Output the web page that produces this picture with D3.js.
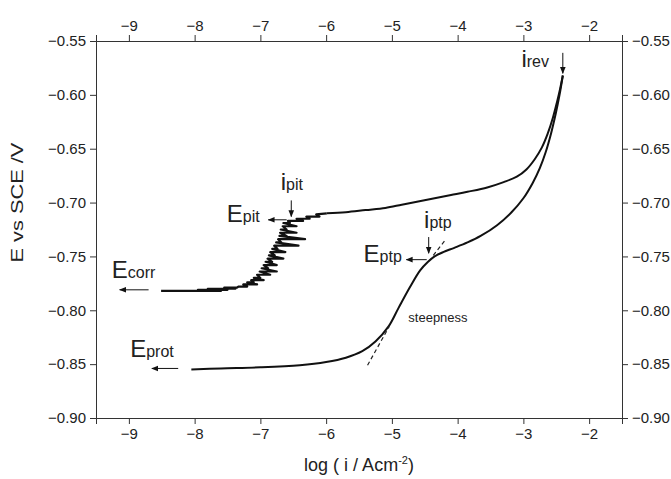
<!DOCTYPE html>
<html>
<head>
<meta charset="utf-8">
<script src="https://cdn.jsdelivr.net/npm/d3@7"></script>
<style>
    body { margin: 0; background: #fff; }
    svg { display: block; font-family: "Liberation Sans", Arial, sans-serif; }
</style>
</head>
<body>
<svg id="polar-chart"></svg>
<script>
/*--------------------------------------------------------------------------------
----- CYCLIC POLARISATION CURVE (E vs log i, forward and reverse scan)
--------------------------------------------------------------------------------*/

// Forward scan, pitting region (noisy, current spikes at nearly constant E)
const pit_log_i = [-8.51, -7.60, -7.95, -7.50, -7.80, -7.38, -7.55, -7.36,
    -7.33, -7.20, -7.26, -7.05, -7.20, -7.10, -7.14, -6.95, -7.10, -7.00,
    -7.05, -6.85, -7.01, -6.75, -6.98, -6.88, -6.95, -6.75, -6.92, -6.82,
    -6.89, -6.65, -6.87, -6.78, -6.85, -6.62, -6.82, -6.74, -6.79, -6.42,
    -6.76, -6.68, -6.73, -6.32, -6.71, -6.60, -6.70, -6.45, -6.69, -6.60,
    -6.66, -6.45, -6.65, -6.55, -6.58, -6.35, -6.45, -6.25, -6.30, -6.10,
    -6.15, -5.99];
const pit_e = [-0.782, -0.782, -0.781, -0.781, -0.780, -0.780, -0.779, -0.779,
    -0.778, -0.778, -0.776, -0.776, -0.774, -0.774, -0.772, -0.772, -0.770, -0.770,
    -0.767, -0.767, -0.764, -0.764, -0.761, -0.761, -0.758, -0.758, -0.755, -0.755,
    -0.752, -0.752, -0.749, -0.749, -0.746, -0.746, -0.743, -0.743, -0.740, -0.740,
    -0.737, -0.737, -0.734, -0.734, -0.731, -0.731, -0.728, -0.728, -0.725, -0.725,
    -0.722, -0.722, -0.719, -0.719, -0.717, -0.717, -0.715, -0.715, -0.713, -0.713,
    -0.711, -0.710];

// Forward scan, passive region up to the reversal point
const fwd_log_i = [-5.99, -5.70, -5.40, -5.10, -4.85, -4.60, -4.35, -4.10, -3.85, -3.55,
    -3.30, -3.10, -2.95, -2.83, -2.72, -2.63, -2.55, -2.49, -2.44, -2.40];
const fwd_e = [-0.710, -0.709, -0.707, -0.705, -0.702, -0.699, -0.696, -0.693, -0.690, -0.686,
    -0.681, -0.676, -0.669, -0.660, -0.649, -0.636, -0.621, -0.607, -0.594, -0.582];

// Reverse scan, starting from the reversal point
const rev_log_i = [-2.40, -2.45, -2.51, -2.58, -2.66, -2.75, -2.86, -3.00, -3.18, -3.40,
    -3.65, -3.85, -4.05, -4.22, -4.35, -4.45, -4.57, -4.72, -4.90, -5.05,
    -5.25, -5.45, -5.70, -6.00, -6.40, -7.00, -7.60, -8.05];
const rev_e = [-0.582, -0.600, -0.618, -0.636, -0.653, -0.668, -0.682, -0.696, -0.709, -0.721,
    -0.731, -0.737, -0.742, -0.746, -0.750, -0.755, -0.763, -0.778, -0.798, -0.815,
    -0.829, -0.838, -0.844, -0.848, -0.851, -0.853, -0.854, -0.855];

// Dashed tangent ("steepness") pieces, as [log i, E] pairs
const tangent_low = [[-5.37, -0.851], [-5.04, -0.815]];
const tangent_high = [[-4.37, -0.749], [-4.19, -0.735]];

// Axis ticks
const x_ticks = [-9, -8, -7, -6, -5, -4, -3, -2];
const x_minor_ticks = [-9.5, -8.5, -7.5, -6.5, -5.5, -4.5, -3.5, -2.5, -1.5];
const y_ticks = [-0.55, -0.60, -0.65, -0.70, -0.75, -0.80, -0.85, -0.90];
const y_minor_ticks = d3.range(-0.55, -0.9005, -0.01);

// Annotations: [big letter, small suffix, log i, E]
const labels = [
    ["E", "corr", -9.26, -0.770],
    ["E", "pit", -7.51, -0.718],
    ["i", "pit", -6.69, -0.688],
    ["i", "ptp", -4.51, -0.724],
    ["E", "ptp", -5.43, -0.755],
    ["E", "prot", -8.98, -0.843],
    ["i", "rev", -3.03, -0.574]
];
// Arrows: [from log i, from E, to log i, to E]
const arrows = [
    [-8.70, -0.781, -9.14, -0.781],
    [-6.60, -0.716, -6.88, -0.716],
    [-6.53, -0.698, -6.53, -0.713],
    [-4.44, -0.732, -4.44, -0.747],
    [-4.47, -0.753, -4.78, -0.753],
    [-8.25, -0.854, -8.65, -0.854],
    [-2.40, -0.561, -2.40, -0.580]
];

// Dimensions of the chart
const width = 671, height = 479;
const margins = { top: 41, right: 49, bottom: 61, left: 96 };
const chart_width = width - margins.left - margins.right;
const chart_height = height - margins.top - margins.bottom;

const x_scale = d3.scaleLinear().domain([-9.5, -1.5]).range([0, chart_width]);
const y_scale = d3.scaleLinear().domain([-0.90, -0.55]).range([chart_height, 0]);

const svg = d3.select("#polar-chart")
    .attr("width", width)
    .attr("height", height);

const chart = svg.append("g")
    .attr("transform", `translate(${margins.left},${margins.top})`);

// Helper to draw one axis with its major and minor ticks
function draw_axis(axis_fn, scale, ticks, minor, transform, fmt) {
    const g = chart.append("g").attr("transform", transform);
    g.call(axis_fn(scale).tickValues(minor).tickSize(3).tickFormat(""));
    g.call(axis_fn(scale).tickValues(ticks).tickSize(6).tickPadding(4).tickFormat(fmt));
    g.selectAll("path.domain").attr("stroke", "#333");
    g.selectAll("line").attr("stroke", "#333");
    g.selectAll("text").attr("font-size", 15).attr("fill", "#222")
        .attr("font-family", "'Liberation Sans', Arial, sans-serif");
    return g;
}

const fmt_x = d => d3.format("d")(d);
const fmt_y = d => d3.format(".2f")(d);
draw_axis(d3.axisBottom, x_scale, x_ticks, x_minor_ticks, `translate(0,${chart_height})`, fmt_x);
draw_axis(d3.axisTop, x_scale, x_ticks, x_minor_ticks, "translate(0,0)", fmt_x);
draw_axis(d3.axisLeft, y_scale, y_ticks, y_minor_ticks, "translate(0,0)", fmt_y);
draw_axis(d3.axisRight, y_scale, y_ticks, y_minor_ticks, `translate(${chart_width},0)`, fmt_y);

// Axis titles
const x_title = chart.append("text")
    .attr("x", chart_width / 2)
    .attr("y", chart_height + 53)
    .attr("text-anchor", "middle")
    .attr("font-size", 18)
    .attr("fill", "#222");
x_title.append("tspan").text("log ( i / Acm");
x_title.append("tspan").attr("dy", -7).attr("font-size", 11).text("-2");
x_title.append("tspan").attr("dy", 7).text(")");

svg.append("text")
    .attr("transform", `translate(23,${y_scale(-0.70) + margins.top}) rotate(-90)`)
    .attr("text-anchor", "middle")
    .attr("font-size", 16)
    .attr("textLength", 120)
    .attr("lengthAdjust", "spacingAndGlyphs")
    .attr("fill", "#222")
    .text("E vs SCE /V");

// Curves
const smooth_line = d3.line()
    .x(d => x_scale(d[0]))
    .y(d => y_scale(d[1]))
    .curve(d3.curveCatmullRom.alpha(0.5));
const straight_line = d3.line()
    .x(d => x_scale(d[0]))
    .y(d => y_scale(d[1]));

const pit_data = pit_log_i.map((v, i) => [v, pit_e[i]]);
const fwd_data = fwd_log_i.map((v, i) => [v, fwd_e[i]]);
const rev_data = rev_log_i.map((v, i) => [v, rev_e[i]]);

chart.append("path")
    .datum(pit_data)
    .attr("d", straight_line)
    .attr("fill", "none")
    .attr("stroke", "#111")
    .attr("stroke-width", 2.2)
    .attr("stroke-linejoin", "round");

[fwd_data, rev_data].forEach(data => {
    chart.append("path")
        .datum(data)
        .attr("d", smooth_line)
        .attr("fill", "none")
        .attr("stroke", "#111")
        .attr("stroke-width", 2);
});

// Dashed tangent pieces
[tangent_low, tangent_high].forEach(seg => {
    chart.append("path")
        .datum(seg)
        .attr("d", straight_line)
        .attr("stroke", "#222")
        .attr("stroke-width", 1.2)
        .attr("stroke-dasharray", "4,3");
});

// Arrow marker
svg.append("defs").append("marker")
    .attr("id", "head")
    .attr("viewBox", "0 0 10 10")
    .attr("refX", 9).attr("refY", 5)
    .attr("markerWidth", 7).attr("markerHeight", 7)
    .attr("markerUnits", "userSpaceOnUse")
    .attr("orient", "auto")
    .append("path")
    .attr("d", "M0,1L10,5L0,9Z")
    .attr("fill", "#111");

chart.selectAll(".arrow")
    .data(arrows)
    .enter()
    .append("line")
    .attr("class", "arrow")
    .attr("x1", d => x_scale(d[0]))
    .attr("y1", d => y_scale(d[1]))
    .attr("x2", d => x_scale(d[2]))
    .attr("y2", d => y_scale(d[3]))
    .attr("stroke", "#111")
    .attr("stroke-width", 1)
    .attr("marker-end", "url(#head)");

// Annotation labels with big letter and small suffix
const label_g = chart.selectAll(".lbl")
    .data(labels)
    .enter()
    .append("text")
    .attr("class", "lbl")
    .attr("x", d => x_scale(d[2]))
    .attr("y", d => y_scale(d[3]))
    .attr("fill", "#222");
label_g.append("tspan").attr("font-size", 24).text(d => d[0]);
label_g.append("tspan").attr("font-size", 16).text(d => d[1]);

chart.append("text")
    .attr("x", x_scale(-4.75))
    .attr("y", y_scale(-0.811))
    .attr("font-size", 13)
    .attr("fill", "#222")
    .text("steepness");
</script>
</body>
</html>
